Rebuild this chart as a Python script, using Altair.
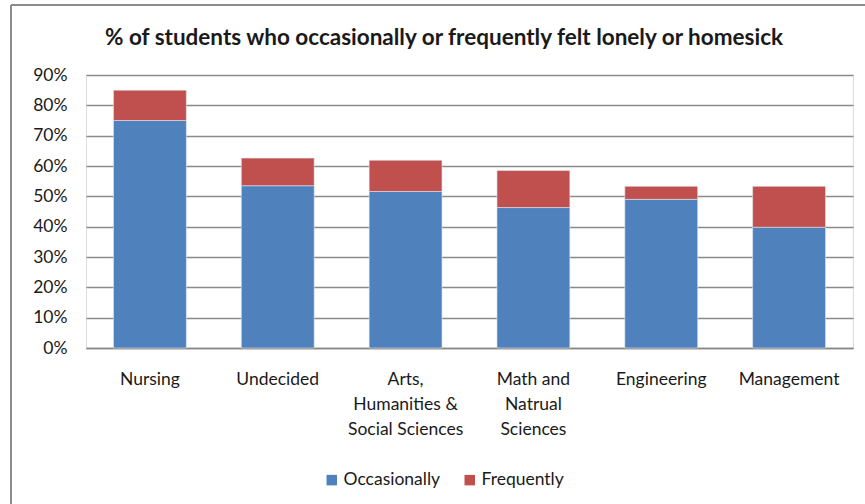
import altair as alt
import pandas as pd

categories = ["Nursing", "Undecided", "Arts,\nHumanities &\nSocial Sciences",
              "Math and\nNatrual\nSciences", "Engineering", "Management"]
occasionally = [0.750, 0.535, 0.516, 0.463, 0.490, 0.398]
frequently = [0.100, 0.091, 0.103, 0.122, 0.043, 0.135]
series = ["Occasionally", "Frequently"]
colors = ["#4F81BD", "#C0504D"]
y_ticks = [0, 0.1, 0.2, 0.3, 0.4, 0.5, 0.6, 0.7, 0.8, 0.9]
title_text = ["% of students who occasionally or frequently felt lonely or homesick"]

rows = []
for i, c in enumerate(categories):
    rows.append({"cat": c, "series": series[0], "value": occasionally[i], "ord": 0})
    rows.append({"cat": c, "series": series[1], "value": frequently[i], "ord": 1})
df = pd.DataFrame(rows)

FONT = "Lato"
TEXT = "#1a1a1a"
GRID = "#8a8a8a"
FS = 17.5

bars = alt.Chart(df).mark_bar(stroke="#dfe6f0", strokeWidth=0.6).encode(
    x=alt.X("cat:N", sort=categories, title=None,
            scale=alt.Scale(paddingInner=0.43, paddingOuter=0.215),
            axis=alt.Axis(labelAngle=0, labelExpr="split(datum.label, '\\n')",
                          labelFontSize=FS, labelFont=FONT, labelColor=TEXT,
                          labelLineHeight=25, labelPadding=22, labelBaseline="top",
                          ticks=False, domain=True, domainColor="#868686",
                          domainWidth=1.5, grid=False)),
    y=alt.Y("value:Q", stack="zero", title=None,
            scale=alt.Scale(domain=[0, 0.9], nice=False, zero=True),
            axis=alt.Axis(values=y_ticks, format=".0%", labelFontSize=FS,
                          labelFont=FONT, labelColor=TEXT, ticks=False, tickSize=0,
                          labelPadding=19, domain=False, grid=True,
                          gridColor=GRID, gridWidth=1.3)),
    color=alt.Color("series:N", scale=alt.Scale(domain=series, range=colors),
                    legend=alt.Legend(orient="none", legendX=237, legendY=396,
                                      direction="horizontal", title=None,
                                      symbolType="square", symbolSize=110,
                                      symbolStrokeWidth=0, labelFontSize=FS,
                                      labelFont=FONT, labelColor=TEXT,
                                      labelOffset=3, columnPadding=20)),
    order=alt.Order("ord:Q", sort="ascending"),
)

title_df = pd.DataFrame({"t": title_text})
title = alt.Chart(title_df).mark_text(
    font=FONT, fontSize=22.5, fontWeight="bold", color=TEXT,
    align="center", baseline="alphabetic").encode(
    text="t:N", x=alt.value(358), y=alt.value(-30))

frame_df = pd.DataFrame({"k": [0]})
left_border = alt.Chart(frame_df).mark_rule(color="#8c8c8c", strokeWidth=2).encode(
    x=alt.value(-75), x2=alt.value(-75), y=alt.value(-70), y2=alt.value(440))
top_border = alt.Chart(frame_df).mark_rule(color="#8c8c8c", strokeWidth=2).encode(
    x=alt.value(-75), x2=alt.value(790), y=alt.value(-70), y2=alt.value(-70))

chart = alt.layer(bars, title, left_border, top_border).properties(
    width=767, height=273,
    autosize=alt.AutoSizeParams(type="none"),
    padding={"left": 86, "top": 75, "right": 12, "bottom": 156},
).configure_view(stroke=None).configure(background="white")

chart.save("out.html", embed_options={"renderer": "svg", "actions": False})
